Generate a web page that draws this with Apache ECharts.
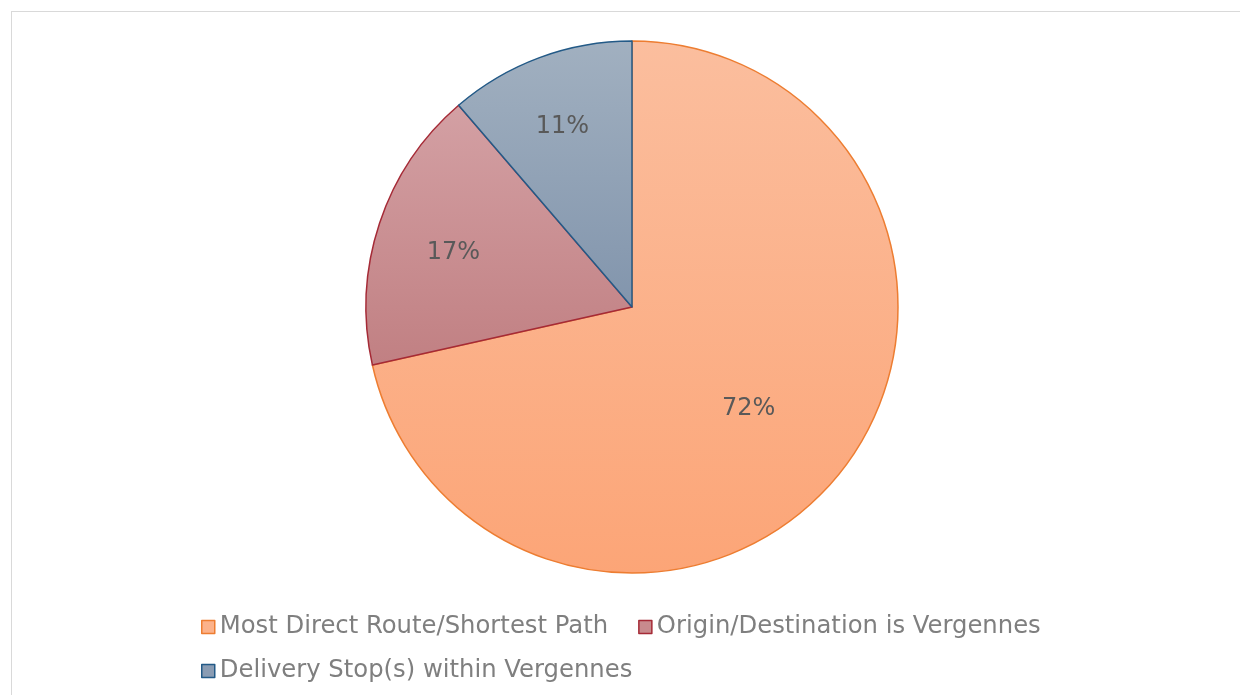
<!DOCTYPE html>
<html><head><meta charset="utf-8">
<script src="https://cdn.jsdelivr.net/npm/echarts@6/dist/echarts.min.js"></script>
<style>
html,body{margin:0;padding:0;background:#fff;width:1240px;height:695px;overflow:hidden;}
#frame{position:absolute;left:11px;top:11px;width:1300px;height:800px;border:1px solid #d9d9d9;box-sizing:border-box;}
#chart{position:absolute;left:0;top:0;width:1240px;height:695px;}
</style></head>
<body>
<div id="frame"></div>
<div id="chart"></div>
<script>
const categories = ['Most Direct Route/Shortest Path', 'Origin/Destination is Vergennes', 'Delivery Stop(s) within Vergennes'];
const values = [71.5, 17.2, 11.3];

const cx = 632, cy = 307, R = 266;
const topColors = ['#fbbe9e', '#d8a8ac', '#a1b0c0'];
const botColors = ['#fca577', '#b26668', '#637a99'];
const flatColors = ['#fcb28a', '#c88a8d', '#8a9cb3'];
const borderColors = ['#ed7d31', '#a52a36', '#235a87'];
const labelFrac = [0.57, 0.69, 0.715];
const labelAngleAdj = [-2.4, 1.5, 0.8];

const total = values.reduce((a, b) => a + b, 0);
let acc = 0;
const data = values.map((v, i) => {
  const mid = 90 - (acc + v / 2) / total * 360;
  acc += v;
  const rad = mid * Math.PI / 180;
  const rad2 = (mid + labelAngleAdj[i]) * Math.PI / 180;
  const f = labelFrac[i] * R, h = 0.5 * R;
  return {
    name: categories[i], value: v,
    itemStyle: {
      color: new echarts.graphic.LinearGradient(0, cy - R, 0, cy + R, [
        {offset: 0, color: topColors[i]}, {offset: 1, color: botColors[i]}], true),
      borderColor: borderColors[i], borderWidth: 1.5
    },
    label: {offset: [f * Math.cos(rad2) - h * Math.cos(rad), -(f * Math.sin(rad2) - h * Math.sin(rad))]}
  };
});

const legendItem = i => ({name: categories[i], itemStyle: {color: flatColors[i], borderColor: borderColors[i], borderWidth: 1.5}});
const legendText = {color: '#7f7f7f', fontSize: 24.3, fontFamily: 'DejaVu Sans'};

const chart = echarts.init(document.getElementById('chart'), null, {renderer: 'canvas'});
chart.setOption({
  animation: false,
  legend: [
    {data: [legendItem(0), legendItem(1)], left: 201, top: 615, padding: 0, icon: 'rect', itemWidth: 13, itemHeight: 13, itemGap: 30, textStyle: legendText, selectedMode: false},
    {data: [legendItem(2)], left: 201, top: 659, padding: 0, icon: 'rect', itemWidth: 13, itemHeight: 13, textStyle: legendText, selectedMode: false}
  ],
  series: [{
    type: 'pie',
    center: [cx, cy], radius: R,
    startAngle: 90, clockwise: true,
    label: {show: true, position: 'inside', formatter: p => Math.round(p.percent) + '%', color: '#595959', fontSize: 24, fontFamily: 'DejaVu Sans'},
    labelLine: {show: false},
    emphasis: {disabled: true},
    data: data
  }]
});
</script>
</body></html>
